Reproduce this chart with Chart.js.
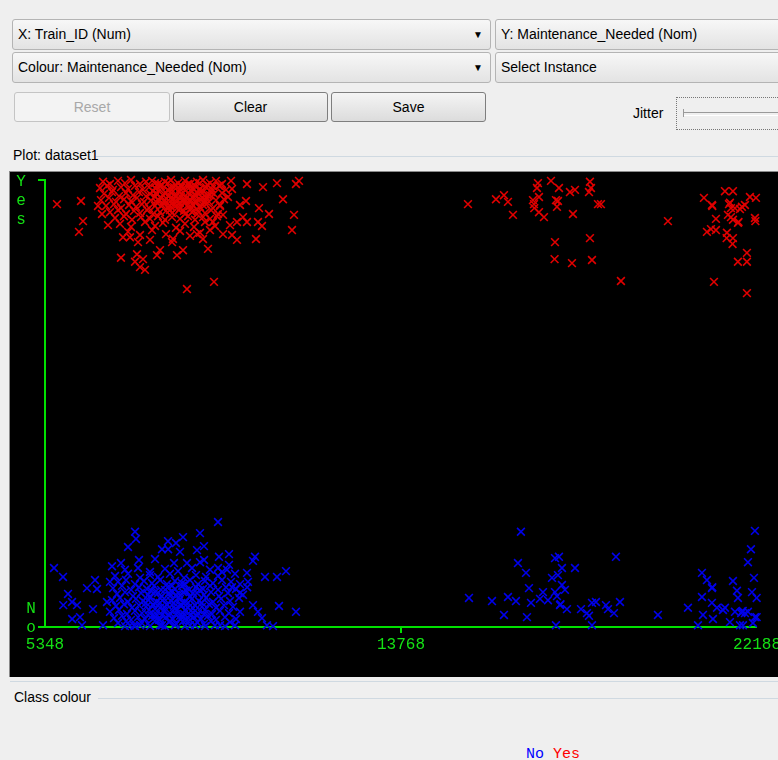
<!DOCTYPE html>
<html>
<head>
<meta charset="utf-8">
<script src="https://cdn.jsdelivr.net/npm/chart.js@4.4.1/dist/chart.umd.min.js"></script>
<style>
  html, body { margin:0; padding:0; }
  body { width:778px; height:760px; overflow:hidden; background:#efefef; position:relative;
         font-family:"Liberation Sans", Arial, sans-serif; font-size:14px; color:#000; }
  .combo { position:absolute; box-sizing:border-box; height:31px; border:1px solid #b4b4b4; border-radius:3px;
           background:linear-gradient(#f7f7f7,#e3e3e3); line-height:29px; padding-left:5px; white-space:nowrap; overflow:hidden; }
  .combo .arr { position:absolute; right:7px; top:0; font-size:10px; }
  .btn { position:absolute; box-sizing:border-box; top:92px; height:30px; border:1px solid #7e7e7e; border-radius:3px;
         background:linear-gradient(#f4f4f4,#dcdcdc); text-align:center; line-height:28px; }
  .btn.dis { border-color:#c4c4c4; color:#a8a8a8; background:#f3f3f3; }
  .lbl { position:absolute; white-space:nowrap; }
  .rule { position:absolute; height:1px; background:#cfd9e1; }
  #plotwrap { position:absolute; left:9px; top:171px; width:769px; height:506px; border-left:1px solid #8a8a8a;
              border-top:1px solid #8a8a8a; box-sizing:border-box; background:#000; }
  #chart { position:absolute; left:0; top:0; }
  .mono { font-family:"Liberation Mono", "DejaVu Sans Mono", monospace; font-size:15px; }
</style>
</head>
<body>
  <div class="combo" style="left:12px; top:19px; width:479px;">X: Train_ID (Num)<span class="arr">&#9660;</span></div>
  <div class="combo" style="left:495px; top:19px; width:300px;">Y: Maintenance_Needed (Nom)</div>
  <div class="combo" style="left:12px; top:52px; width:479px;">Colour: Maintenance_Needed (Nom)<span class="arr">&#9660;</span></div>
  <div class="combo" style="left:495px; top:52px; width:300px;">Select Instance</div>

  <div class="btn dis" style="left:14px; width:156px;">Reset</div>
  <div class="btn" style="left:173px; width:155px;">Clear</div>
  <div class="btn" style="left:331px; width:155px;">Save</div>

  <div class="lbl" style="left:633px; top:105px;">Jitter</div>
  <div style="position:absolute; left:676px; top:97px; width:120px; height:33px; border:1px dotted #777; box-sizing:border-box;">
    <div style="position:absolute; left:6px; top:14px; width:120px; height:2px; border-top:1px solid #9a9a9a; border-bottom:1px solid #fff;"></div>
    <div style="position:absolute; left:6px; top:11px; width:1px; height:8px; background:#9a9a9a;"></div>
  </div>

  <div class="lbl" style="left:13px; top:147px;">Plot: dataset1</div>
  <div class="rule" style="left:96px; top:156px; width:682px;"></div>

  <div id="plotwrap"><canvas id="chart" width="768" height="505" style="width:768px;height:505px;"></canvas></div>

  <div class="rule" style="left:10px; top:681px; width:768px;"></div>
  <div class="lbl" style="left:14px; top:689px;">Class colour</div>
  <div class="rule" style="left:98px; top:698px; width:680px;"></div>
  <div class="lbl mono" style="left:526px; top:746px;"><span style="color:#0000ff">No</span> <span style="color:#ff0000">Yes</span></div>

<script>
// ---- data (Train_ID, jittered class position: No = 0, Yes = 1) ----
const classNames = ['No', 'Yes'];
const xTicks = [5348, 13768, 22188];

const yesLeft = [
  [5632,.946],[6199,.953],[6247,.908],[6152,.884],[6601,.942],[6696,.924],[6838,.899],[7145,.826],[7524,.834],[7477,.817],
  [7595,.805],[7713,.799],[7666,.823],[7997,.832],[8068,.843],[8352,.861],[8375,.868],[8470,.832],[7548,.861],[7193,.872],
  [7358,.872],[7831,.866],[10125,.991],[10504,.984],[10835,.993],[11284,.991],[11355,.998],[10977,.957],[10102,.953],[9960,.944],
  [10409,.937],[10646,.924],[11237,.922],[10385,.906],[10480,.897],[11190,.888],[10338,.868],[10125,.906],[10031,.917],[9889,.866],
  [9771,.877],[9558,.879],[9203,.846],[8612,.843],[9345,.772],[8706,.756],[9747,.998],[9771,.980],[9487,.987],[9676,.962],
  [9889,.906],[9723,.899],[9321,.906],[9085,.868],[8943,.879],[9250,.888],[9558,.922],[9487,.944],
  [6720,.996],[6885,.991],[7074,.998],[7240,.993],[7382,1.0],[7595,.991],[7737,.996],[7879,.998],[8020,.991],[8186,.996],
  [8328,1.0],[8494,.993],[8659,.998],[8777,.991],[8943,.996],[9085,1.0],[9250,.993],[9392,.998],[9534,.991],
  [6649,.982],[6814,.987],[6956,.978],[7145,.984],[7311,.980],[7477,.987],[7666,.978],[7808,.984],[7950,.982],[8091,.987],
  [8257,.978],[8399,.984],[8541,.980],[8683,.987],[8848,.982],[8990,.978],[9156,.984],[9297,.980],[9463,.987],[9629,.978],
  [6743,.969],[6933,.973],[7098,.964],[7264,.971],[7429,.966],[7571,.973],[7737,.964],[7831,.969],[7973,.971],[8139,.966],
  [8304,.973],[8446,.964],[8588,.969],[8730,.971],[8896,.966],[9037,.973],[9203,.964],[9345,.969],[9534,.971],
  [6672,.955],[6862,.960],[7027,.951],[7216,.957],[7382,.953],[7524,.960],[7689,.951],[7855,.955],[8020,.957],[8162,.953],
  [8328,.960],[8470,.951],[8612,.955],[8777,.957],[8919,.953],[9085,.960],[9227,.951],[9392,.955],[9581,.957],
  [6791,.942],[6980,.946],[7145,.937],[7335,.944],[7500,.940],[7642,.946],[7808,.937],[7950,.942],[8115,.944],[8257,.940],
  [8399,.946],[8541,.937],[8706,.942],[8848,.944],[8990,.940],[9156,.946],[9321,.937],[9487,.942],
  [6885,.928],[7074,.933],[7264,.924],[7453,.931],[7595,.926],[7760,.933],[7902,.924],[8068,.928],[8210,.931],[8352,.926],
  [8517,.933],[8659,.924],[8825,.928],[8966,.931],[9132,.926],[9274,.933],[9440,.924],
  [7004,.915],[7216,.919],[7406,.911],[7618,.917],[7831,.913],[8020,.919],[8186,.911],[8352,.917],[8541,.913],[8730,.919],
  [8896,.911],[9085,.917],[9250,.913],[9416,.919],
  [7122,.902],[7382,.895],[7713,.906],[7950,.897],[8139,.904],[8446,.893],[8659,.902],[8872,.895],[9132,.906],[9369,.897],
  [7311,.884],[7595,.877],[7879,.888],[8210,.879],[8541,.886],[8777,.875],[9014,.882],
  [7950,.993],[8115,.989],[8257,.993],[8423,.989],[8588,.987],[8730,.991],[8896,.987],[9014,.993],[9179,.989],[9321,.987],
  [7902,.975],[8068,.978],[8210,.971],[8375,.975],[8517,.973],[8659,.978],[8825,.975],[8966,.969],[9108,.975],[9274,.973],
  [7950,.962],[8091,.960],[8257,.964],[8399,.957],[8564,.962],[8706,.960],[8872,.962],[9014,.957],[9156,.962],
  [7997,.949],[8162,.946],[8304,.951],[8470,.944],[8635,.949],[8777,.942],[8919,.949],[9085,.944],
  [8304,.933],[8470,.937],[8635,.931],[8801,.935],[8943,.924],
  [8068,.987],[8304,.982],[8541,.987],[8777,.984],[9014,.980],[8186,.955],[8423,.964],[8659,.957],[8896,.966],[9132,.953],
  [8304,.942],[8541,.949],[8777,.953],[9014,.940],[7997,.969],[9250,.966]
];
const yesMid = [
  [15352,.946],[16014,.957],[16203,.966],[16298,.951],[16416,.922],[17007,.993],[16984,.982],[17315,.998],[17504,.982],[17031,.962],
  [16889,.955],[16913,.946],[16920,.937],[17031,.928],[17149,.917],[17433,.955],[17480,.953],[17457,.940],[17764,.973],[17883,.978],
  [17835,.924],[18237,.996],[18261,.982],[18214,.973],[18427,.946],[18497,.946],[17410,.861],[17400,.823],[17812,.814],[18285,.821],
  [18237,.870],[18970,.774],[20082,.908]
];
const yesRight = [
  [20933,.960],[21122,.944],[21130,.942],[21430,.975],[21619,.975],[21548,.949],[21572,.937],[21667,.937],[21832,.940],[21903,.944],
  [22021,.962],[22163,.960],[21217,.913],[21572,.917],[21619,.911],[21737,.904],[21750,.906],[22139,.915],[22150,.908],[21004,.884],
  [21099,.890],[21217,.888],[21477,.882],[21470,.870],[21619,.870],[21610,.857],[21950,.837],[21737,.817],[21950,.817],[21170,.772],
  [21950,.747],[21785,.935],[21525,.946],[21501,.922]
];

const noLeft = [
  [5561,.132],[5774,.112],[5892,.074],[5780,.049],[5987,.056],[6105,.049],[5990,.018],[6176,.022],[6341,.087],[6531,.105],
  [6578,.085],[6483,.040],[6814,.056],[6885,.101],[6933,.136],[7145,.143],[7311,.179],[7477,.213],[7500,.197],[7571,.150],
  [7950,.152],[8115,.174],[8257,.192],[8260,.174],[8446,.188],[8612,.201],[8541,.168],[8399,.143],[9014,.210],[8943,.172],
  [9108,.181],[9440,.235],[9110,.150],[9463,.157],[9700,.163],[9700,.139],[9652,.128],[10125,.121],[10149,.101],[10315,.157],
  [10267,.148],[10551,.112],[10835,.112],[11048,.125],[10882,.047],[11284,.034],[10130,.089],[10267,.049],[10385,.034],[10480,.020],
  [9960,.076],[9771,.089],[9440,.132],[9014,.145],[8706,.143],
  [7240,.128],[7548,.132],[7831,.123],[8186,.130],[8494,.125],[8825,.132],[9250,.128],[9534,.123],
  [7004,.114],[7311,.119],[7595,.110],[7831,.116],[8020,.112],[8304,.119],[8635,.110],[8919,.116],[9156,.112],[9440,.114],[9842,.119],
  [7074,.101],[7264,.105],[7477,.096],[7689,.103],[7879,.098],[8068,.105],[8233,.096],[8423,.103],[8588,.098],[8777,.105],
  [8966,.096],[9132,.103],[9321,.098],[9534,.105],[9747,.101],[9960,.096],
  [6956,.087],[7169,.092],[7382,.083],[7571,.089],[7760,.085],[7926,.092],[8091,.083],[8257,.089],[8423,.085],[8588,.092],
  [8754,.083],[8919,.089],[9085,.085],[9250,.092],[9440,.083],[9629,.089],[9865,.085],
  [7051,.074],[7240,.078],[7429,.069],[7618,.076],[7784,.072],[7950,.078],[8115,.069],[8281,.076],[8446,.072],[8612,.078],
  [8777,.069],[8943,.076],[9108,.072],[9274,.078],[9463,.069],[9676,.076],[10031,.072],
  [6933,.060],[7122,.065],[7311,.056],[7500,.063],[7666,.058],[7831,.065],[7997,.056],[8162,.063],[8328,.058],[8494,.065],
  [8659,.056],[8825,.063],[8990,.058],[9156,.065],[9321,.056],[9510,.063],[9723,.058],[9936,.065],
  [7027,.047],[7216,.051],[7406,.043],[7571,.049],[7737,.045],[7902,.051],[8068,.043],[8233,.049],[8399,.045],[8564,.051],
  [8730,.043],[8896,.049],[9061,.045],[9227,.051],[9392,.043],[9581,.049],[9794,.045],
  [6885,.034],[7098,.038],[7287,.029],[7477,.036],[7642,.031],[7808,.038],[7973,.029],[8139,.036],[8304,.031],[8470,.038],
  [8635,.029],[8801,.036],[8966,.031],[9132,.038],[9297,.029],[9487,.036],[9700,.031],[9960,.034],
  [6980,.020],[7169,.025],[7382,.016],[7548,.022],[7713,.018],[7879,.025],[8044,.016],[8210,.022],[8375,.018],[8541,.025],
  [8706,.016],[8872,.022],[9037,.018],[9203,.025],[9392,.016],[9605,.022],[9865,.018],
  [7074,.009],[7264,.013],[7453,.004],[7618,.011],[7784,.007],[7950,.013],[8115,.004],[8281,.011],[8446,.007],[8612,.013],
  [8777,.004],[8943,.011],[9108,.007],[9274,.013],[9487,.004],[9723,.011],
  [7855,.081],[8020,.076],[8186,.083],[8352,.078],[8517,.074],[8683,.081],[8848,.076],[9014,.083],
  [7737,.054],[7902,.049],[8068,.054],[8233,.051],[8399,.054],[8564,.047],[8730,.054],[8896,.049],[9061,.054],
  [7784,.027],[7950,.022],[8115,.027],[8281,.025],[8446,.029],[8612,.022],[8777,.027],[8943,.025],[9108,.029],
  [6223,.004],[6720,.004],[7240,.002],[7358,.004],[7477,.002],[7595,.004],[7831,.002],[8068,.004],[8186,.002],[8423,.004],
  [8659,.002],[8896,.004],[9132,.002],[9369,.004],[9605,.002],[9842,.004],[10598,.004],[10740,.002],
  [7831,.069],[8068,.065],[8304,.069],[8541,.063],[8777,.067],[7950,.040],[8186,.036],[8423,.040],[8659,.038],[8896,.036],
  [8068,.016],[8304,.013],[8541,.018],[8777,.016],[8352,.092],[8659,.096]
];
const noMid = [
  [15376,.065],[15920,.058],[16298,.067],[16487,.058],[16203,.027],[16605,.213],[16534,.143],[16724,.121],[16795,.087],[16842,.054],
  [16747,.022],[17055,.063],[17126,.078],[17244,.060],[17339,.110],[17410,.154],[17504,.157],[17575,.132],[17480,.116],[17575,.094],
  [17646,.083],[17410,.078],[17457,.069],[17528,.049],[17540,.051],[17693,.040],[17883,.132],[17433,.004],[18025,.040],[18166,.031],
  [18214,.025],[18285,.054],[18379,.056],[18285,.004],[18616,.049],[18663,.040],[18805,.031],[18947,.056],[18852,.157],[19845,.027]
];
const noRight = [
  [20555,.043],[20886,.121],[21004,.105],[20886,.067],[20910,.027],[21122,.087],[21130,.089],[21122,.054],[21146,.018],[21241,.043],
  [21383,.038],[21430,.043],[21619,.103],[21714,.081],[21737,.065],[21548,.011],[21667,.034],[21832,.034],[21850,.036],[21815,.031],
  [21903,.031],[21974,.034],[22069,.078],[21974,.145],[22045,.174],[22139,.215],[22116,.110],[22180,.065],[22139,.022],[22180,.022],
  [22092,.009],[21785,.004],[21856,.004],[20792,.004]
];

const AXIS = '#00e000';
const AXIS_TEXT = '#14e014';
const toXY = p => ({ x: p[0], y: p[1] });

const wekaAxes = {
  id: 'wekaAxes',
  beforeDatasetsDraw(chart) {
    const { ctx, scales: { x, y } } = chart;
    const x0 = x.getPixelForValue(xTicks[0]);
    const x1 = x.getPixelForValue(xTicks[xTicks.length - 1]);
    const yNo = y.getPixelForValue(0), yYes = y.getPixelForValue(1);
    ctx.save();
    ctx.strokeStyle = AXIS; ctx.lineWidth = 2;
    ctx.beginPath();
    ctx.moveTo(x0 - 7, yYes); ctx.lineTo(x0, yYes); ctx.lineTo(x0, yNo);
    ctx.moveTo(x0 - 7, yNo); ctx.lineTo(x1, yNo);
    xTicks.slice(1, -1).forEach(v => {
      const px = x.getPixelForValue(v);
      ctx.moveTo(px, yNo); ctx.lineTo(px, yNo + 6);
    });
    ctx.stroke();
    ctx.fillStyle = AXIS_TEXT;
    ctx.font = '16px "Liberation Mono", "DejaVu Sans Mono", monospace';
    ctx.textAlign = 'center'; ctx.textBaseline = 'middle';
    xTicks.forEach(v => ctx.fillText(String(v), x.getPixelForValue(v), yNo + 18));
    const yes = classNames[1].split('');
    yes.forEach((ch, i) => ctx.fillText(ch, x0 - 24, yYes + 2 + i * 19));
    const no = classNames[0].split('');
    no.forEach((ch, i) => ctx.fillText(ch, x0 - 14, yNo + 1 - (no.length - 1 - i) * 19));
    ctx.restore();
  }
};

new Chart(document.getElementById('chart'), {
  type: 'scatter',
  data: {
    datasets: [
      { label: classNames[0], data: [...noLeft, ...noMid, ...noRight].map(toXY),
        pointStyle: 'crossRot', pointRadius: 5.5, borderWidth: 1.6,
        borderColor: 'rgb(0,0,235)', backgroundColor: 'rgb(0,0,235)', clip: false },
      { label: classNames[1], data: [...yesLeft, ...yesMid, ...yesRight].map(toXY),
        pointStyle: 'crossRot', pointRadius: 5.5, borderWidth: 1.6,
        borderColor: 'rgb(225,0,0)', backgroundColor: 'rgb(225,0,0)', clip: false }
    ]
  },
  options: {
    responsive: false, animation: false, devicePixelRatio: 1, events: [],
    layout: { padding: { left: 35, right: 21, top: 8, bottom: 50 } },
    scales: {
      x: { type: 'linear', min: xTicks[0], max: xTicks[xTicks.length - 1], display: false },
      y: { type: 'linear', min: 0, max: 1, display: false }
    },
    plugins: { legend: { display: false }, tooltip: { enabled: false } }
  },
  plugins: [wekaAxes]
});
</script>
</body>
</html>
